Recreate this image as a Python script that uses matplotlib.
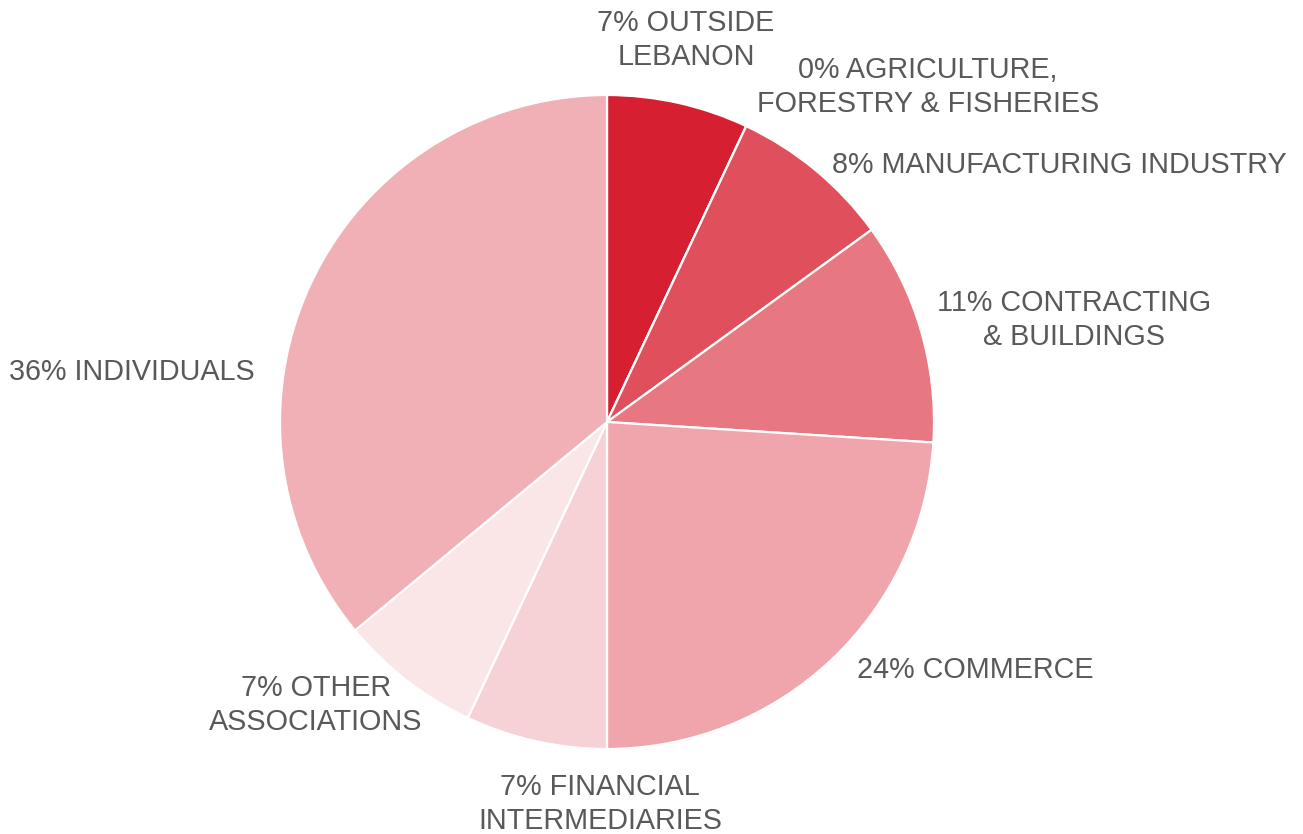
import matplotlib
matplotlib.use("Agg")
import matplotlib.pyplot as plt

# Loan distribution by sector (percent), clockwise from 12 o'clock
sectors = [
    "OUTSIDE\nLEBANON",
    "AGRICULTURE,\nFORESTRY & FISHERIES",
    "MANUFACTURING INDUSTRY",
    "CONTRACTING\n& BUILDINGS",
    "COMMERCE",
    "FINANCIAL\nINTERMEDIARIES",
    "OTHER\nASSOCIATIONS",
    "INDIVIDUALS",
]
shares = [7, 0, 8, 11, 24, 7, 7, 36]
colors = ["#D62031", "#C8102E", "#E04F5C", "#E77881", "#EFA5AB",
          "#F6D2D6", "#FAE6E7", "#F1B0B6"]

# label anchor points (pixel coords, y measured from top)
label_pos = [(686, 40), (928, 87), (1059, 165), (1074, 320),
             (975, 670), (600, 804), (316, 705), (132, 372)]

W, H = 1303, 834
fig = plt.figure(figsize=(W / 100, H / 100), dpi=100)
ax = fig.add_axes([0, 0, 1, 1])
ax.set_xlim(0, W)
ax.set_ylim(0, H)
ax.set_aspect("equal")
ax.axis("off")

ax.pie(shares, colors=colors, startangle=90, counterclock=False,
       center=(607, H - 422), radius=327, frame=True,
       wedgeprops=dict(edgecolor="white", linewidth=1.6))
ax.set_xlim(0, W)
ax.set_ylim(0, H)
ax.axis("off")

for name, val, (x, y) in zip(sectors, shares, label_pos):
    ax.text(x, H - y, f"{val}% {name}", ha="center", va="center",
            multialignment="center", fontsize=20.7, color="#58595B",
            family="Liberation Sans", linespacing=1.3)

fig.savefig("out.png", dpi=100, facecolor="white")
